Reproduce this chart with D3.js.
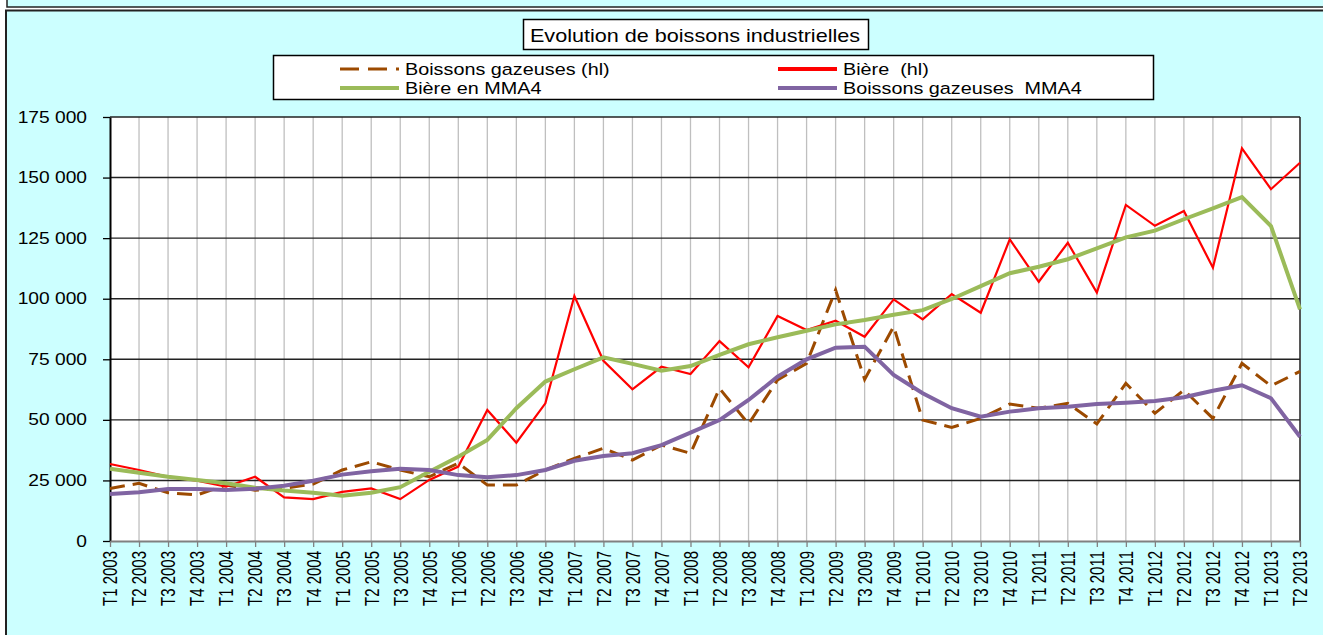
<!DOCTYPE html>
<html>
<head>
<meta charset="utf-8">
<script src="https://cdn.jsdelivr.net/npm/d3@7"></script>
<style>
  body { margin: 0; background: #ffffff; }
  svg { display: block; font-family: "Liberation Sans", Arial, sans-serif; }
</style>
</head>
<body>
<div id="chart"></div>
<script>
// data
var quarters = ["T1","T2","T3","T4"];
var categories = [];
for (var yr = 2003; yr <= 2013; yr++) {
  quarters.forEach(function(q) { categories.push(q + " " + yr); });
}
categories = categories.slice(0, 42); // T1 2003 .. T2 2013

var gazeuses = [21700, 23800, 19900, 19000, 23100, 21000, 21700, 23500, 29300, 32700,
  29300, 26500, 32100, 23100, 23100, 29300, 34100, 38300, 33400, 39600,
  36200, 63000, 48300, 66500, 73300, 103600, 66700, 88500, 49900, 46900,
  50600, 56500, 54800, 56800, 48300, 65100, 52700, 62300, 50600, 73300,
  64000, 70000];
var biere = [31800, 29300, 26500, 24900, 22400, 26500, 18000, 17300, 20300, 21700,
  17300, 25200, 30700, 54100, 40600, 56800, 101100, 74400, 62600, 71900,
  68900, 82500, 71700, 92900, 87100, 90900, 84300, 99700, 91500, 101900,
  94200, 124500, 107000, 123100, 102500, 138700, 130100, 136200, 112800, 162100,
  145200, 156100];
var biereMMA4 = [29800, 28200, 26500, 25200, 23800, 22000, 20800, 19900, 18700, 19900,
  22200, 28600, 34800, 41700, 54800, 65800, 70900, 75800, 73100, 70300,
  72200, 76800, 81200, 84100, 86800, 89400, 91200, 93400, 95300, 99900,
  105200, 110500, 113200, 116300, 120800, 125300, 128100, 132800, 137300, 141900,
  130000, 95600];
var gazeusesMMA4 = [19400, 20100, 21500, 21500, 21000, 21600, 22800, 24900, 27400, 28800,
  29800, 29300, 27200, 26300, 27200, 29300, 33100, 35100, 36200, 39600,
  44700, 49900, 58200, 67800, 75000, 79800, 80200, 68500, 61000, 54800,
  51300, 53400, 54800, 55400, 56500, 57100, 57800, 59300, 62000, 64300,
  58900, 43000];
var yTicks = [0, 25000, 50000, 75000, 100000, 125000, 150000, 175000];
var title = "Evolution de boissons industrielles";

var series = [
  {name: "Boissons gazeuses (hl)", values: gazeuses, color: "#9C4A00", width: 3, dash: "15,8"},
  {name: "Bière  (hl)", values: biere, color: "#FF0000", width: 2.2, dash: null},
  {name: "Bière en MMA4", values: biereMMA4, color: "#9BBB59", width: 4, dash: null},
  {name: "Boissons gazeuses  MMA4", values: gazeusesMMA4, color: "#8064A2", width: 4, dash: null}
];

// text in the picture is stretched sideways
var SX = 1.2;

var W = 1323, H = 635;
var svg = d3.select("#chart").append("svg")
  .attr("width", W).attr("height", H);

// outer frames
svg.append("rect").attr("x", 7).attr("y", -10).attr("width", 1323).attr("height", 17)
  .attr("fill", "#CCFFFF").attr("stroke", "#222").attr("stroke-width", 1.5);
svg.append("rect").attr("x", 6).attr("y", 10.5).attr("width", 1330).attr("height", 640)
  .attr("fill", "#CCFFFF").attr("stroke", "#222").attr("stroke-width", 2);

var margin = {left: 110, top: 117, right: 1300, bottom: 541};

var x = d3.scalePoint().domain(categories).range([margin.left, margin.right]);
var y = d3.scaleLinear().domain([0, 175000]).range([margin.bottom, margin.top]);

// plot area
svg.append("rect").attr("x", margin.left).attr("y", margin.top)
  .attr("width", margin.right - margin.left).attr("height", margin.bottom - margin.top)
  .attr("fill", "#ffffff");

// vertical grid
svg.append("g").selectAll("line").data(categories.slice(1)).enter().append("line")
  .attr("x1", function(d) { return x(d); }).attr("x2", function(d) { return x(d); })
  .attr("y1", margin.top).attr("y2", margin.bottom)
  .attr("stroke", "#BFBFBF").attr("stroke-width", 1.3);

// horizontal grid
svg.append("g").selectAll("line").data(yTicks.slice(1)).enter().append("line")
  .attr("x1", margin.left).attr("x2", margin.right)
  .attr("y1", function(d) { return y(d); }).attr("y2", function(d) { return y(d); })
  .attr("stroke", "#222").attr("stroke-width", 1.4);

// right border of plot
svg.append("line").attr("x1", margin.right).attr("x2", margin.right)
  .attr("y1", margin.top).attr("y2", margin.bottom)
  .attr("stroke", "#222").attr("stroke-width", 1.4);

var fmt = function(d) { return d3.format(",")(d).replace(/,/g, " "); };

// Y axis
var yAxis = svg.append("g")
  .attr("transform", "translate(" + margin.left + ",0)")
  .call(d3.axisLeft(y).tickValues(yTicks).tickFormat(fmt).tickSize(7).tickSizeOuter(0));
yAxis.select(".domain").attr("stroke", "#000").attr("stroke-width", 2);
yAxis.selectAll(".tick line").attr("stroke", "#000").attr("stroke-width", 1.3);
yAxis.selectAll("text")
  .attr("x", -23 / SX)
  .attr("transform", "scale(" + SX + ",1)")
  .style("font-size", "16px")
  .style("font-family", "Liberation Sans, Arial, sans-serif").attr("fill", "#000");

// X axis
var xAxis = svg.append("g")
  .attr("transform", "translate(0," + margin.bottom + ")")
  .call(d3.axisBottom(x).tickSize(6).tickSizeOuter(0));
xAxis.select(".domain").attr("stroke", "#808080").attr("stroke-width", 2);
xAxis.selectAll(".tick line").attr("stroke", "#808080").attr("stroke-width", 1.3);
xAxis.selectAll("text")
  .attr("transform", "scale(1.3,1) rotate(-90)")
  .attr("x", -10).attr("y", 0).attr("dy", "0.35em")
  .style("text-anchor", "end").style("font-size", "15px")
  .style("font-family", "Liberation Sans, Arial, sans-serif").attr("fill", "#000");

// Lines
var line = d3.line()
  .x(function(d, i) { return x(categories[i]); })
  .y(function(d) { return y(d); });

series.forEach(function(s) {
  svg.append("path").datum(s.values)
    .attr("d", line)
    .attr("fill", "none")
    .attr("stroke", s.color)
    .attr("stroke-width", s.width)
    .attr("stroke-dasharray", s.dash)
    .attr("stroke-linejoin", "miter");
});

function stretchedText(px, py, anchor, size, str) {
  return svg.append("text")
    .attr("transform", "translate(" + px + "," + py + ") scale(" + SX + ",1)")
    .attr("text-anchor", anchor)
    .style("font-size", size + "px")
    .style("white-space", "pre")
    .text(str);
}

// Title box
svg.append("rect").attr("x", 523.5).attr("y", 19.5).attr("width", 345).attr("height", 30)
  .attr("fill", "#fff").attr("stroke", "#000").attr("stroke-width", 1.5);
stretchedText(695, 41.5, "middle", 18, title);

// Legend box
svg.append("rect").attr("x", 273.5).attr("y", 55.5).attr("width", 880).attr("height", 44)
  .attr("fill", "#fff").attr("stroke", "#000").attr("stroke-width", 1.5);

var legendPos = [
  {x: 340, y: 69}, {x: 778, y: 69}, {x: 340, y: 88}, {x: 778, y: 88}
];
series.forEach(function(s, i) {
  var p = legendPos[i];
  svg.append("line").attr("x1", p.x).attr("x2", p.x + 59)
    .attr("y1", p.y).attr("y2", p.y)
    .attr("stroke", s.color).attr("stroke-width", s.dash ? 3 : 4)
    .attr("stroke-dasharray", s.dash ? "19,9" : null);
  stretchedText(p.x + 65, p.y + 5.5, "start", 16.5, s.name);
});
</script>
</body>
</html>
